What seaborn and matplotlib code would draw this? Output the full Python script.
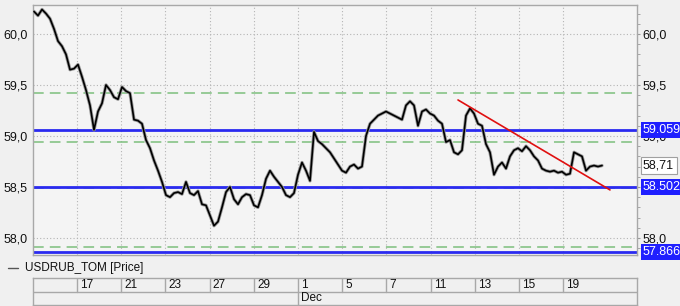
import numpy as np
import pandas as pd
import matplotlib
matplotlib.use("Agg")
import matplotlib.pyplot as plt
import seaborn as sns
from matplotlib.transforms import blended_transform_factory
from matplotlib.lines import Line2D

# ---- data ----
close = [
    60.22, 60.18, 60.24, 60.20, 60.15, 60.05, 59.93, 59.88, 59.80, 59.65,
    59.66, 59.70, 59.58, 59.45, 59.30, 59.06, 59.24, 59.32, 59.50, 59.45,
    59.38, 59.36, 59.48, 59.44, 59.42, 59.16, 59.15, 59.12, 58.96, 58.88,
    58.76, 58.66, 58.55, 58.42, 58.40, 58.44, 58.45, 58.43, 58.55, 58.44,
    58.42, 58.46, 58.33, 58.32, 58.22, 58.12, 58.16, 58.30, 58.45, 58.50,
    58.38, 58.33, 58.40, 58.43, 58.42, 58.32, 58.30, 58.42, 58.58, 58.66,
    58.60, 58.55, 58.50, 58.42, 58.40, 58.44, 58.62, 58.74, 58.66, 58.56,
    59.04, 58.95, 58.92, 58.88, 58.84, 58.78, 58.72, 58.66, 58.64, 58.70,
    58.72, 58.68, 58.70, 59.00, 59.12, 59.16, 59.20, 59.22, 59.24, 59.22,
    59.20, 59.18, 59.16, 59.30, 59.34, 59.30, 59.10, 59.24, 59.26, 59.22,
    59.20, 59.15, 59.12, 58.94, 58.96, 58.84, 58.82, 58.86, 59.20, 59.27,
    59.22, 59.12, 59.10, 58.92, 58.84, 58.62, 58.70, 58.74, 58.68, 58.80,
    58.86, 58.88, 58.85, 58.90, 58.86, 58.80, 58.76, 58.68, 58.66, 58.65,
    58.66, 58.64, 58.65, 58.62, 58.63, 58.84, 58.82, 58.80, 58.66, 58.70,
    58.71, 58.70, 58.71,
]
day_labels = ["17", "21", "23", "27", "29", "1", "5", "7", "11", "13", "15", "19"]
month_label = "Dec"
month_tick_index = 5
ytick_vals = [58.0, 58.5, 59.0, 59.5, 60.0]
ytick_labels = ["58,0", "58,5", "59,0", "59,5", "60,0"]
blue_levels = [59.059, 58.502, 57.866]
blue_labels = ["59.059", "58.502", "57.866"]
green_levels = [59.42, 58.945, 58.49, 57.915]
trend_bar = [106, 144]
trend_price = [59.353, 58.471]
last_value = 58.71
last_label = "58,71"
series_name = "USDRUB_TOM [Price]"

# ---- style ----
W, H = 680, 306
sns.set_style("white")
plt.rcParams["font.family"] = ["Liberation Sans", "DejaVu Sans"]

fig = plt.figure(figsize=(W / 100, H / 100), dpi=100, facecolor="#f0f0f0")
L, R, T, B = 33, 637, 5, 255
ax = fig.add_axes([L / W, (H - B) / H, (R - L) / W, (B - T) / H])
ax.set_facecolor("#f4f4f4")

x0, x1 = -0.25, 150.75
ax.set_xlim(x0, x1)
ax.set_ylim(57.833, 60.284)

tick_step = 11.05
tick_pos = [10.75 + tick_step * k for k in range(len(day_labels))]

# grid
for tp in tick_pos:
    ax.axvline(tp, color="#b4b4b4", lw=0.8, ls=(0, (1, 2)), zorder=1)
for yv in ytick_vals:
    ax.axhline(yv, color="#b4b4b4", lw=0.8, ls=(0, (1, 2)), zorder=1)

# levels
for g in green_levels:
    ax.axhline(g, color="#7dbf7d", lw=1.1, ls=(0, (7, 4)), zorder=2)
for b in blue_levels:
    ax.axhline(b, color="#2a2af0", lw=2.0, zorder=2.2)

# price
df = pd.DataFrame({"bar": np.arange(len(close)), "close": close})
sns.lineplot(data=df, x="bar", y="close", color="#9a9a9a", lw=2.4, ax=ax, zorder=3)
sns.lineplot(data=df, x="bar", y="close", color="black", lw=1.2, ax=ax, zorder=3.1)

# trend line
ax.plot(trend_bar, trend_price, color="#e01010", lw=1.2, zorder=3.5)

# axes decoration
ax.set_xlabel("")
ax.set_ylabel("")
ax.set_xticks([])
ax.set_yticks(ytick_vals)
ax.set_yticklabels(ytick_labels)
ax.set_yticks(np.arange(57.9, 60.3, 0.1), minor=True)
ax.tick_params(axis="y", which="both", left=False, right=True, labelleft=True,
               labelright=True, labelsize=9, colors="#111111")
ax.tick_params(axis="y", which="major", length=2, pad=2, color="#999999")
ax.tick_params(axis="y", which="minor", length=2, color="#999999")
for s in ax.spines.values():
    s.set_color("#a8a8a8")
    s.set_linewidth(1.0)
    s.set_visible(True)

tr = blended_transform_factory(ax.transAxes, ax.transData)
xlab = (643 - L) / (R - L)
for b, lab in zip(blue_levels, blue_labels):
    ax.text(xlab, b, lab, transform=tr, color="white", fontsize=9, va="center",
            ha="left", clip_on=False, zorder=10,
            bbox=dict(boxstyle="square,pad=0.15", fc="#1f1fff", ec="none"))
ax.text(xlab, last_value, last_label, transform=tr, color="#111111", fontsize=9,
        va="center", ha="left", clip_on=False, zorder=10,
        bbox=dict(boxstyle="square,pad=0.2", fc="white", ec="#a0a0a0", lw=0.8))

# legend
fig.add_artist(Line2D([8 / W, 18 / W], [1 - 268 / H] * 2, color="#555555", lw=1.0))
fig.text(25 / W, 1 - 268 / H, series_name, fontsize=8.5, va="center", ha="left",
         color="#111111")

# date table
tax = fig.add_axes([L / W, (H - 305) / H, (R - L) / W, 27 / H])
tax.set_xlim(x0, x1)
tax.set_ylim(0, 2)
tax.set_facecolor("#f0f0f0")
tax.set_xticks([])
tax.set_yticks([])
for s in tax.spines.values():
    s.set_color("#a8a8a8")
    s.set_linewidth(1.0)
tax.axhline(1, color="#a8a8a8", lw=1.0)
for tp, lab in zip(tick_pos, day_labels):
    tax.plot([tp, tp], [1, 2], color="#a8a8a8", lw=1.0)
    tax.text(tp + 0.8, 1.5, lab, fontsize=8.5, va="center", ha="left", color="#111111")
mp = tick_pos[month_tick_index]
tax.plot([mp, mp], [0, 1], color="#a8a8a8", lw=1.0)
tax.text(mp + 0.8, 0.5, month_label, fontsize=8.5, va="center", ha="left", color="#111111")

fig.savefig("out.png", dpi=100, facecolor=fig.get_facecolor())
